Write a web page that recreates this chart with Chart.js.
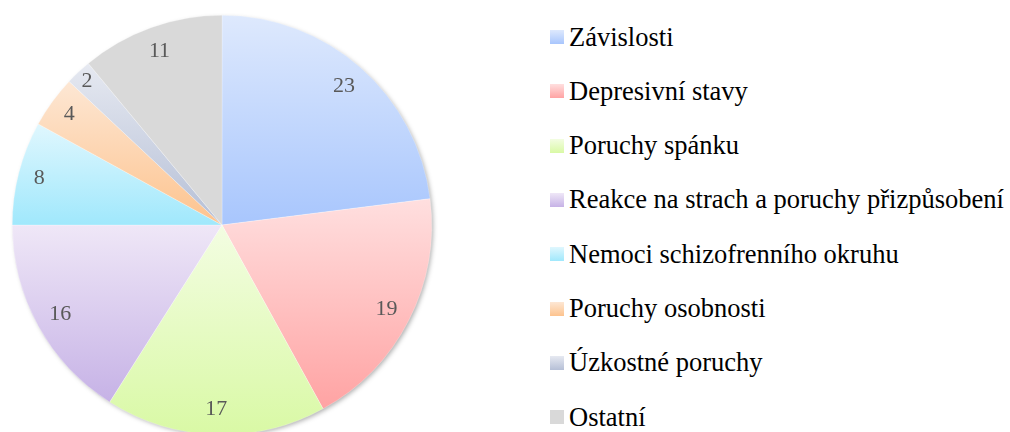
<!DOCTYPE html>
<html>
<head>
<meta charset="utf-8">
<script src="https://cdn.jsdelivr.net/npm/chart.js@4.4.1/dist/chart.umd.min.js"></script>
<style>
  html, body { margin: 0; padding: 0; width: 1010px; height: 432px; overflow: hidden; background: #fff; }
  #pieBox { position: absolute; left: 0; top: 0; width: 450px; height: 450px; }
  #legend { position: absolute; left: 550px; top: 0; font-family: 'Liberation Serif'; font-size: 26.5px; color: #000; }
  .item { position: absolute; left: 0; height: 30px; display: flex; align-items: center; white-space: nowrap; }
  .box { width: 14px; height: 14px; margin-right: 5px; flex: none; }
</style>
</head>
<body>
<div id="pieBox"><canvas id="pie"></canvas></div>
<div id="legend"></div>
<script>
// data
const labels = ["Závislosti", "Depresivní stavy", "Poruchy spánku", "Reakce na strach a poruchy přizpůsobení",
                "Nemoci schizofrenního okruhu", "Poruchy osobnosti", "Úzkostné poruchy", "Ostatní"];
const values = [23, 19, 17, 16, 8, 4, 2, 11];

// gradient colours per slice (top -> bottom)
const topColors    = ["#dee9fd", "#ffdfdf", "#f3fde2", "#efe7f7", "#e0f7fe", "#fde7d4", "#e6e9f1", "#d9d9d9"];
const bottomColors = ["#a8c6fd", "#ffa3a3", "#d9f9a5", "#c6b2e6", "#a0e8fc", "#fdc38e", "#b5bfd6", "#d9d9d9"];

Chart.defaults.font.family = "'Liberation Serif'";

// vertical extent of a sector (for the gradient)
function sectorYRange(cx, cy, r, a0, a1) {
    let ys = [cy, cy + r * Math.sin(a0), cy + r * Math.sin(a1)];
    [Math.PI / 2, -Math.PI / 2, Math.PI * 1.5, Math.PI * 2.5].forEach(a => {
        if (a > a0 && a < a1) ys.push(cy + r * Math.sin(a));
    });
    return [Math.min(...ys), Math.max(...ys)];
}

function sliceFill(context) {
    const chart = context.chart;
    const area = chart.chartArea;
    const i = context.dataIndex;
    if (!area || i === undefined) return topColors[i] || "#ccc";
    const total = values.reduce((a, b) => a + b, 0);
    const before = values.slice(0, i).reduce((a, b) => a + b, 0);
    const a0 = -Math.PI / 2 + before / total * Math.PI * 2;
    const a1 = a0 + values[i] / total * Math.PI * 2;
    const cx = (area.left + area.right) / 2;
    const cy = (area.top + area.bottom) / 2;
    const r = Math.min(area.right - area.left, area.bottom - area.top) / 2;
    const [y0, y1] = sectorYRange(cx, cy, r, a0, a1);
    const g = chart.ctx.createLinearGradient(0, y0, 0, y1);
    g.addColorStop(0, topColors[i]);
    g.addColorStop(1, bottomColors[i]);
    return g;
}

// soft shadow under the whole pie
const pieShadow = {
    id: "pieShadow",
    beforeDatasetsDraw(chart) {
        const arc = chart.getDatasetMeta(0).data[0];
        if (!arc) return;
        const ctx = chart.ctx;
        ctx.save();
        ctx.shadowColor = "rgba(0,0,0,0.35)";
        ctx.shadowBlur = 5;
        ctx.shadowOffsetX = 2;
        ctx.shadowOffsetY = 2;
        ctx.fillStyle = "#fff";
        ctx.beginPath();
        ctx.arc(arc.x, arc.y, arc.outerRadius - 1, 0, Math.PI * 2);
        ctx.fill();
        ctx.restore();
    }
};

// value labels near the rim
const valueLabels = {
    id: "valueLabels",
    afterDatasetsDraw(chart) {
        const ctx = chart.ctx;
        ctx.save();
        ctx.font = "22px 'Liberation Serif'";
        ctx.fillStyle = "#595959";
        ctx.textAlign = "center";
        ctx.textBaseline = "middle";
        chart.getDatasetMeta(0).data.forEach((arc, i) => {
            const p = arc.getProps(["x", "y", "startAngle", "endAngle", "outerRadius"], true);
            const mid = (p.startAngle + p.endAngle) / 2;
            let k = 0.88;
            if (values[i] < 10) k = 0.9;
            if (values[i] <= 2) k = 0.94;
            const rr = p.outerRadius * k;
            ctx.fillText(String(values[i]), p.x + Math.cos(mid) * rr, p.y + Math.sin(mid) * rr);
        });
        ctx.restore();
    }
};

new Chart(document.getElementById("pie"), {
    type: "pie",
    data: {
        labels: labels,
        datasets: [{
            data: values,
            backgroundColor: sliceFill,
            borderColor: "rgba(255,255,255,0.5)",
            borderWidth: 0.5
        }]
    },
    options: {
        responsive: true,
        maintainAspectRatio: false,
        animation: false,
        layout: { padding: { left: 12, right: 18, top: 15, bottom: 15 } },
        plugins: {
            legend: { display: false },
            tooltip: { enabled: false }
        }
    },
    plugins: [pieShadow, valueLabels]
});

// legend (HTML)
const legend = document.getElementById("legend");
labels.forEach((name, i) => {
    const row = document.createElement("div");
    row.className = "item";
    row.style.top = (37 + i * 54.3 - 15) + "px";
    const box = document.createElement("span");
    box.className = "box";
    box.style.background = "linear-gradient(" + topColors[i] + ", " + bottomColors[i] + ")";
    const txt = document.createElement("span");
    txt.textContent = name;
    row.appendChild(box);
    row.appendChild(txt);
    legend.appendChild(row);
});
</script>
</body>
</html>
